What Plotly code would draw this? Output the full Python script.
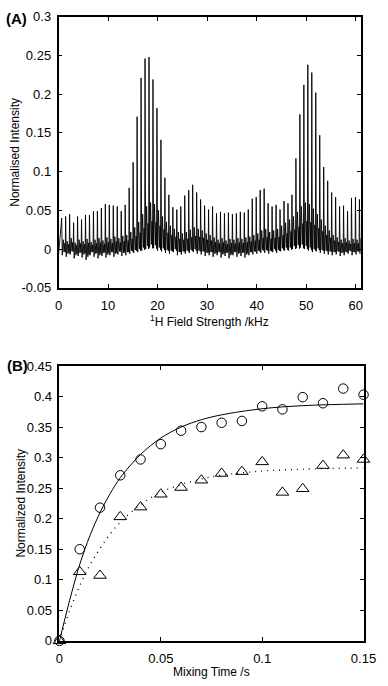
import plotly.graph_objects as go

# ---------------- Panel A data (spectrum) ----------------
spike_start_khz = 0.64
spike_step_khz = 0.8015
spike_heights = [
    0.040, 0.042, 0.045, 0.034, 0.042, 0.038, 0.044, 0.044, 0.049, 0.049,
    0.053, 0.058, 0.057, 0.056, 0.055, 0.049, 0.057, 0.079, 0.112,
    0.171, 0.221, 0.246, 0.248, 0.219, 0.182, 0.141, 0.092, 0.070, 0.054,
    0.051, 0.055, 0.069, 0.076, 0.083, 0.073, 0.064, 0.056, 0.051,
    0.055, 0.046, 0.048, 0.046, 0.047, 0.045, 0.046, 0.048, 0.047, 0.051,
    0.065, 0.067, 0.076, 0.078, 0.059, 0.055, 0.057, 0.051, 0.062,
    0.059, 0.070, 0.117, 0.174, 0.212, 0.238, 0.228, 0.202, 0.147, 0.106,
    0.088, 0.073, 0.067, 0.055, 0.056, 0.049, 0.066, 0.067, 0.064,
]
sub_heights = [
    0.012, 0.010, 0.014, 0.008, 0.012, 0.010, 0.013, 0.009, 0.012, 0.014,
    0.011, 0.015, 0.013, 0.016, 0.014, 0.017, 0.018,
    0.022, 0.028,
    0.035, 0.045, 0.055, 0.060, 0.058, 0.050, 0.042, 0.035, 0.030, 0.026, 0.022, 0.020,
    0.022, 0.025, 0.028, 0.026, 0.024, 0.020, 0.018,
    0.015, 0.012, 0.014, 0.011, 0.013, 0.012, 0.014, 0.013, 0.015, 0.016, 0.018, 0.020, 0.024,
    0.026, 0.022, 0.024, 0.026, 0.030, 0.034,
    0.038, 0.042, 0.048, 0.055, 0.060, 0.058, 0.052, 0.045, 0.038, 0.030, 0.024,
    0.018, 0.015, 0.012, 0.014, 0.011, 0.013, 0.012, 0.014,
]
dip_values = [
    -0.008, -0.010, -0.007, -0.012, -0.009, -0.011, -0.014, -0.008, -0.010, -0.012,
    -0.009, -0.011, -0.008, -0.010, -0.007, -0.009, -0.008,
    -0.006, -0.005,
    -0.004, -0.002, 0.000, 0.002, 0.001, -0.002, -0.003, -0.005, -0.006, -0.004, -0.008, -0.007,
    -0.006, -0.005, -0.004, -0.006, -0.007, -0.009, -0.008,
    -0.010, -0.008, -0.011, -0.009, -0.012, -0.008, -0.010, -0.009, -0.011, -0.008, -0.007, -0.006, -0.005,
    -0.005, -0.006, -0.004, -0.005, -0.003, -0.002,
    -0.002, 0.000, 0.001, 0.002, 0.000, -0.002, -0.004, -0.003, -0.005, -0.006, -0.007,
    -0.008, -0.007, -0.009, -0.008, -0.006, -0.008, -0.007, -0.006,
]
a_xticks = [0, 10, 20, 30, 40, 50, 60]
a_yticks = [-0.05, 0, 0.05, 0.1, 0.15, 0.2, 0.25, 0.3]
a_yticktext = ["-0.05", "0", "0.05", "0.1", "0.15", "0.2", "0.25", "0.3"]

# ---------------- Panel B data ----------------
mix_time = [0, 0.01, 0.02, 0.03, 0.04, 0.05, 0.06, 0.07, 0.08, 0.09,
            0.10, 0.11, 0.12, 0.13, 0.14, 0.15]
circles = [0, 0.150, 0.218, 0.271, 0.297, 0.322, 0.344, 0.350, 0.357, 0.360,
           0.384, 0.379, 0.399, 0.389, 0.413, 0.403]
triangles = [0, 0.113, 0.107, 0.203, 0.219, 0.240, 0.251, 0.263, 0.274, 0.277,
             0.293, 0.243, 0.249, 0.287, 0.304, 0.297]
fit_t = [0, 0.005, 0.01, 0.015, 0.02, 0.025, 0.03, 0.04, 0.05, 0.06, 0.07, 0.08,
         0.10, 0.12, 0.15]
fit_solid = [0, 0.066, 0.125, 0.172, 0.210, 0.241, 0.267, 0.305, 0.332, 0.350,
             0.362, 0.370, 0.380, 0.385, 0.388]
fit_dotted = [0, 0.049, 0.090, 0.124, 0.151, 0.175, 0.194, 0.223, 0.243, 0.256,
              0.265, 0.271, 0.278, 0.281, 0.283]
b_xticks = [0, 0.05, 0.1, 0.15]
b_xticktext = ["0", "0.05", "0.1", "0.15"]
b_yticks = [0, 0.05, 0.1, 0.15, 0.2, 0.25, 0.3, 0.35, 0.4, 0.45]
b_yticktext = ["0", "0.05", "0.1", "0.15", "0.2", "0.25", "0.3", "0.35", "0.4", "0.45"]

# ---------------- build spectrum trace from the read values ----------------
sx, sy = [0.0], [dip_values[0]]
for i, h in enumerate(spike_heights):
    x0 = spike_start_khz + i * spike_step_khz
    d = dip_values[i]
    s = sub_heights[i]
    sx += [x0, x0 + 0.12, x0 + 0.32, x0 + 0.48, x0 + 0.62, x0 + 0.72]
    sy += [h, d, s, d + 0.004, 0.6 * s, 0.5 * d]
sx.append(61.0)
sy.append(dip_values[-1])

W, H = 388, 686
FONT = "Liberation Sans, Arial, Helvetica, sans-serif"

def px_x(p):
    return p / W

def px_y(p):
    return 1 - p / H

fig = go.Figure()
fig.add_trace(go.Scatter(x=sx, y=sy, mode="lines", line=dict(color="black", width=0.9),
                         xaxis="x", yaxis="y", showlegend=False, hoverinfo="skip"))

fig.add_trace(go.Scatter(x=fit_t, y=fit_solid, mode="lines", line=dict(color="black", width=1, shape="spline"),
                         xaxis="x2", yaxis="y2", showlegend=False))
fig.add_trace(go.Scatter(x=fit_t, y=fit_dotted, mode="lines",
                         line=dict(color="black", width=1.3, dash="1px,5px", shape="spline"),
                         xaxis="x2", yaxis="y2", showlegend=False))
fig.add_trace(go.Scatter(x=mix_time, y=circles, mode="markers", cliponaxis=False,
                         marker=dict(symbol="circle-open", size=9.5, color="black", line=dict(width=1)),
                         xaxis="x2", yaxis="y2", showlegend=False))
fig.add_trace(go.Scatter(x=mix_time, y=triangles, mode="markers", cliponaxis=False,
                         marker=dict(symbol="triangle-up-open", size=11, color="black", line=dict(width=1)),
                         xaxis="x2", yaxis="y2", showlegend=False))

axis_common = dict(showline=True, linecolor="black", linewidth=1.5, mirror="ticks",
                   ticks="inside", ticklen=4, tickwidth=1, tickcolor="black",
                   showgrid=False, zeroline=False,
                   tickfont=dict(family=FONT, size=13, color="black"))

fig.update_layout(
    width=W, height=H,
    margin=dict(l=0, r=0, t=0, b=0),
    paper_bgcolor="white", plot_bgcolor="white",
    font=dict(family=FONT, color="black"),
    xaxis=dict(domain=[px_x(57), px_x(373)], range=[0, 61], tickvals=a_xticks,
               anchor="y", ticklabelstandoff=5, **axis_common),
    yaxis=dict(domain=[px_y(287), px_y(10)], range=[-0.05, 0.3], tickvals=a_yticks,
               ticktext=a_yticktext, anchor="x", ticklabelstandoff=3, **axis_common),
    xaxis2=dict(domain=[px_x(58), px_x(376)], range=[0, 0.15], tickvals=b_xticks,
                ticktext=b_xticktext, anchor="y2", ticklabelstandoff=5, **axis_common),
    yaxis2=dict(domain=[px_y(648), px_y(367)], range=[0, 0.45], tickvals=b_yticks,
                ticktext=b_yticktext, anchor="x2", ticklabelstandoff=3, **axis_common),
)

ann = [
    dict(text="<b>(A)</b>", x=px_x(0), y=px_y(12), xanchor="left", yanchor="middle", font=dict(size=15)),
    dict(text="<b>(B)</b>", x=px_x(1), y=px_y(367), xanchor="left", yanchor="middle", font=dict(size=15)),
    dict(text="Normalised Intensity", x=px_x(12), y=px_y(148.5), textangle=-90,
         xanchor="center", yanchor="middle", font=dict(size=12)),
    dict(text="<sup>1</sup>H Field Strength /kHz", x=px_x(215), y=px_y(321),
         xanchor="center", yanchor="middle", font=dict(size=12)),
    dict(text="Normalized Intensity", x=px_x(18), y=px_y(507.5), textangle=-90,
         xanchor="center", yanchor="middle", font=dict(size=12)),
    dict(text="Mixing Time /s", x=px_x(217), y=px_y(680),
         xanchor="center", yanchor="middle", font=dict(size=12)),
]
for a in ann:
    a.update(xref="paper", yref="paper", showarrow=False)
    a["font"].update(family=FONT, color="black")
fig.update_layout(annotations=ann)

fig.write_html(
    "out.html",
    config={"displayModeBar": False},
    post_script="document.body.style.margin='0';document.body.style.overflow='hidden';",
)
